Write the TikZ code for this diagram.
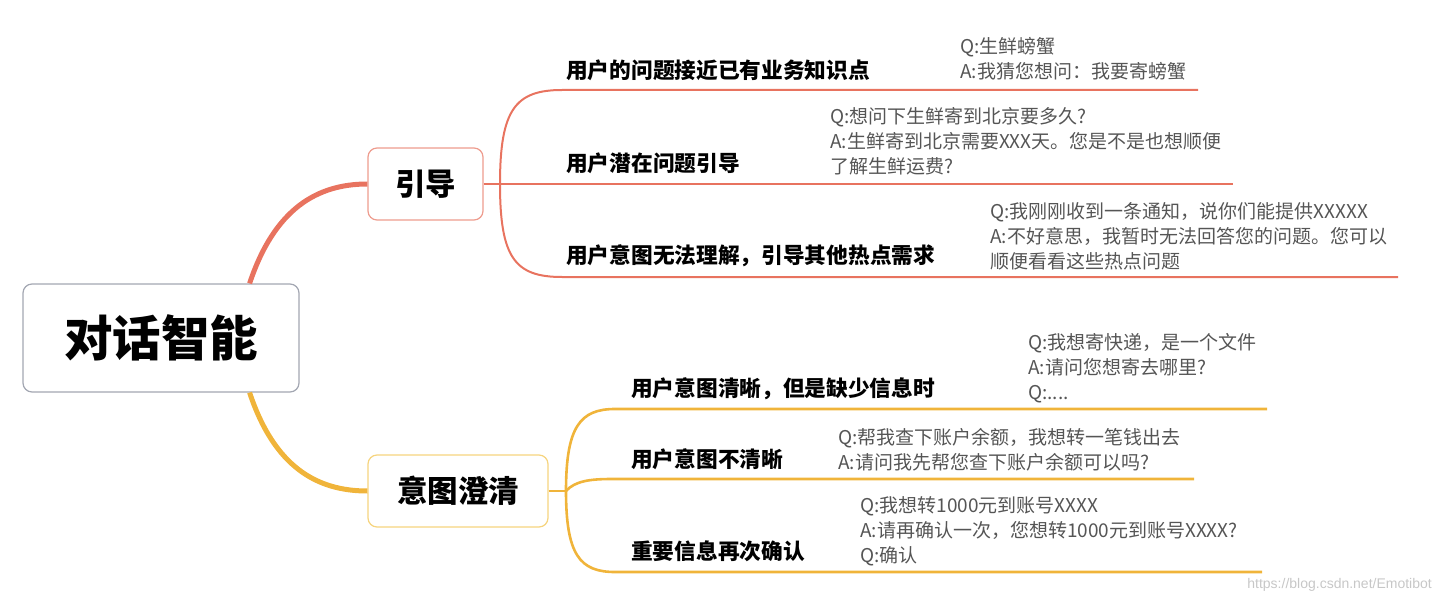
\documentclass[tikz,border=0pt]{standalone}
\usepackage{fontspec}
\newfontfamily\cjk{Noto Sans CJK SC}
\newfontfamily\wmfont{Liberation Sans}
\definecolor{coral}{HTML}{E8735F}
\definecolor{corallt}{HTML}{EE9C8E}
\definecolor{yell}{HTML}{F0B43A}
\definecolor{yelllt}{HTML}{F6D47E}
\definecolor{rootbd}{HTML}{A3A7B2}
\definecolor{qagray}{HTML}{555555}
\tikzset{
  rootbox/.style={draw=rootbd, line width=1.2pt, rounded corners=9pt, fill=white,
    minimum width=276pt, minimum height=108pt, inner sep=0pt,
    font=\cjk\bfseries\fontsize{48.5}{52}\selectfont},
  midbox/.style={line width=1.2pt, rounded corners=9pt, fill=white,
    minimum height=72pt, inner sep=0pt,
    font=\cjk\bfseries\fontsize{30.5}{34}\selectfont},
  lbl/.style={anchor=west, inner sep=0pt, font=\cjk\bfseries\fontsize{21.7}{25}\selectfont},
  qa/.style={anchor=north west, inner sep=0pt, align=left, text=qagray,
    font=\cjk\fontsize{19}{25}\selectfont},
  rline/.style={draw=coral, line width=2pt},
  yline/.style={draw=yell, line width=2.6pt},
}
\begin{document}
\begin{tikzpicture}[x=1pt,y=-1pt]
\useasboundingbox (0,0) rectangle (1438,604);
% main nodes
\node[rootbox] (root) at (161,338) {对话智能};
\node[midbox, draw=corallt, minimum width=115pt] (c1) at (425.5,184) {引导};
\node[midbox, draw=yelllt, minimum width=180pt] (c2) at (458,491) {意图澄清};
% thick connectors
\draw[coral, line width=5pt] ([xshift=-50pt]root.north east) .. controls +(25,-75) and +(-50,0) .. (c1.west);
\draw[yell, line width=5pt] ([xshift=-50pt]root.south east) .. controls +(25,75) and +(-50,0) .. (c2.west);
% coordinates for branch ends
\coordinate (f1) at (500,184);
\coordinate (e1) at (1198,90);
\coordinate (e2) at (1233,184);
\coordinate (e3) at (1398,277);
\coordinate (f2) at (566,491);
\coordinate (e4) at (1267,409);
\coordinate (e5) at (1194,479);
\coordinate (e6) at (1262,572);
% top branches
\draw[rline] (c1.east) -- (f1);
\draw[rline] (f1) .. controls (500,110) and (515,90) .. (562,90) -- (e1);
\draw[rline] (f1) -- (e2);
\draw[rline] (f1) .. controls (500,258) and (515,277) .. (562,277) -- (e3);
% bottom branches
\draw[yline] (c2.east) -- (f2);
\draw[yline] (f2) .. controls (566,427) and (580,409) .. (615,409) -- (e4);
\draw[yline] (f2) .. controls (575,481) and (590,479) .. (612,479) -- (e5);
\draw[yline] (f2) .. controls (566,555) and (580,572) .. (615,572) -- (e6);
% labels
\node[lbl] (t1) at (566,70) {用户的问题接近已有业务知识点};
\node[lbl] (t2) at (566,163) {用户潜在问题引导};
\node[lbl] (t3) at (566,256) {用户意图无法理解，引导其他热点需求};
\node[lbl] (t4) at (631,389) {用户意图清晰，但是缺少信息时};
\node[lbl] (t5) at (631,459) {用户意图不清晰};
\node[lbl] (t6) at (631,551) {重要信息再次确认};
% Q/A texts
\node[qa] (q1) at (960,37) {Q:生鲜螃蟹\\A:我猜您想问：我要寄螃蟹};
\node[qa] (q2) at (830,107) {Q:想问下生鲜寄到北京要多久?\\A:生鲜寄到北京需要XXX天。您是不是也想顺便\\了解生鲜运费?};
\node[qa] (q3) at (990,202) {Q:我刚刚收到一条通知，说你们能提供XXXXX\\A:不好意思，我暂时无法回答您的问题。您可以\\顺便看看这些热点问题};
\node[qa] (q4) at (1028,333) {Q:我想寄快递，是一个文件\\A:请问您想寄去哪里?\\Q:....};
\node[qa] (q5) at (838,428) {Q:帮我查下账户余额，我想转一笔钱出去\\A:请问我先帮您查下账户余额可以吗?};
\node[qa] (q6) at (860,496) {Q:我想转1000元到账号XXXX\\A:请再确认一次，您想转1000元到账号XXXX?\\Q:确认};
% watermark
\node[anchor=east, inner sep=0pt, text=black!22, font=\wmfont\fontsize{14}{16}\selectfont] (wm) at (1432,585) {https://blog.csdn.net/Emotibot};
\end{tikzpicture}
\end{document}
